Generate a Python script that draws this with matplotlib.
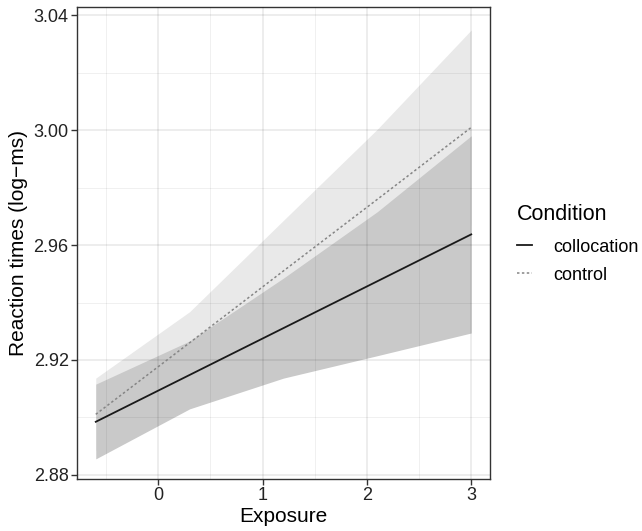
import numpy as np
import matplotlib
matplotlib.use('Agg')
import matplotlib.pyplot as plt

plt.rcParams['font.family'] = ['Liberation Sans', 'DejaVu Sans']

# значения
exposure = [-0.6, 0.3, 1.2, 2.1, 3.0]

colloc_fit = [2.8985, 2.9148, 2.9311, 2.9474, 2.9637]
colloc_lower = [2.8856, 2.9030, 2.9137, 2.9215, 2.9294]
colloc_upper = [2.9116, 2.9266, 2.9485, 2.9716, 2.9980]

control_fit = [2.9011, 2.9260, 2.9510, 2.9759, 3.0009]
control_lower = [2.8885, 2.9152, 2.9334, 2.9515, 2.9670]
control_upper = [2.9137, 2.9368, 2.9686, 3.0003, 3.0348]

x_ticks = [0, 1, 2, 3]
y_ticks = [2.88, 2.92, 2.96, 3.00, 3.04]

fig = plt.figure(figsize=(6.42, 5.31), dpi=100)
ax = fig.add_axes([77 / 642, 1 - 479 / 531, (490 - 77) / 642, (479 - 7) / 531])

# ленты доверительных интервалов
ax.fill_between(exposure, control_lower, control_upper, color='#e9e9e9', lw=0, zorder=1)
ax.fill_between(exposure, colloc_lower, colloc_upper, color='#c9c9c9', lw=0, zorder=1.1)

# линии
ax.plot(exposure, colloc_fit, color='#1a1a1a', lw=1.3, zorder=3, label='collocation')
ax.plot(exposure, control_fit, color='#858585', lw=1.1, ls=(0, (1.6, 1.6)), zorder=3, label='control')

ax.set_xlim(-0.78, 3.18)
ax.set_ylim(2.8786, 3.0428)
ax.set_xticks(x_ticks)
ax.set_xticklabels([str(v) for v in x_ticks])
ax.set_yticks(y_ticks)
ax.set_yticklabels(['%.2f' % v for v in y_ticks])
ax.set_xticks([-0.5, 0.5, 1.5, 2.5], minor=True)
ax.set_yticks([2.90, 2.94, 2.98, 3.02], minor=True)

# сетка поверх лент, но под линиями
ax.grid(which='major', color='black', alpha=0.08, lw=1.3, zorder=2)
ax.grid(which='minor', color='black', alpha=0.06, lw=0.7, zorder=2)
ax.set_axisbelow(False)
for gl in ax.get_xgridlines() + ax.get_ygridlines():
    gl.set_zorder(2)

ax.tick_params(which='major', length=4, width=1, color='#333333',
               labelsize=13, labelcolor='#222222', pad=2)
ax.tick_params(which='minor', length=0)
for s in ax.spines.values():
    s.set_color('#333333')
    s.set_linewidth(1)

ax.set_xlabel('Exposure', fontsize=15, labelpad=2)
ax.set_ylabel('Reaction times (log\u2212ms)', fontsize=15, labelpad=4)

leg = ax.legend(title='Condition', loc='center left', bbox_to_anchor=(1.048, 0.4986),
                frameon=False, fontsize=13, title_fontsize=15.5, handlelength=0.85,
                handletextpad=1.15, labelspacing=0.6, borderaxespad=0)
leg._legend_box.align = 'left'
leg._legend_box.sep = 10

fig.savefig('out.png', dpi=100)
